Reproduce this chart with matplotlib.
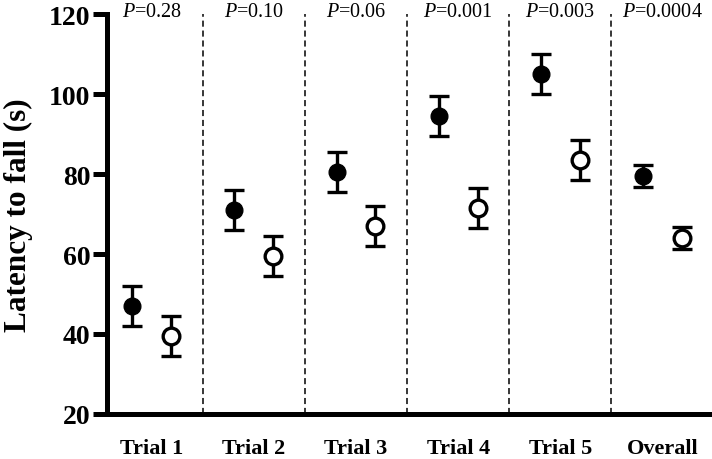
import matplotlib
matplotlib.use('Agg')
import matplotlib.pyplot as plt

# Latency to fall per trial, two groups (filled / open)
groups = ['Trial 1', 'Trial 2', 'Trial 3', 'Trial 4', 'Trial 5', 'Overall']
p_values = ['0.28', '0.10', '0.06', '0.001', '0.003', '0.0004']
filled_mean = [47, 71, 80.5, 94.5, 105, 79.5]
filled_err = [5, 5, 5, 5, 5, 2.8]
open_mean = [39.5, 59.5, 67, 71.5, 83.5, 64]
open_err = [5, 5, 5, 5, 5, 2.8]

SERIF = 'Liberation Serif'
plt.rcParams['font.family'] = SERIF
plt.rcParams['mathtext.fontset'] = 'custom'
plt.rcParams['mathtext.it'] = 'Liberation Serif:italic'
plt.rcParams['mathtext.rm'] = 'Liberation Serif'

fig = plt.figure(figsize=(7.12, 4.6), dpi=100, facecolor='white')
ax = fig.add_axes([0.150, 0.098, 0.852, 0.869])

x_filled = [i + 0.31 for i in range(len(groups))]
x_open = [i + 0.69 for i in range(len(groups))]

ax.errorbar(x_filled, filled_mean, yerr=filled_err, fmt='o', color='black',
            markersize=12, elinewidth=2.4, capsize=7.5, capthick=2.4, zorder=3)
ax.errorbar(x_open, open_mean, yerr=open_err, fmt='o', color='black',
            markerfacecolor='white', markeredgewidth=2.4,
            markersize=12, elinewidth=2.4, capsize=7.5, capthick=2.4, zorder=3)

# dashed separators between groups
for i in range(1, len(groups)):
    ax.axvline(i, color='black', linestyle=(0, (4, 2.5)), linewidth=1.1, zorder=1)

# P-values above each group
for i, p in enumerate(p_values):
    ax.text(i + 0.5, 119.6, r'$\it{P}$' + '=' + p, ha='center', va='baseline',
            fontsize=14.5, family=SERIF, clip_on=False)

ax.set_xlim(0.06, 6.0)
ax.set_ylim(20, 120)
ax.set_yticks([20, 40, 60, 80, 100, 120])
ax.set_xticks([i + 0.5 for i in range(len(groups))])
ax.set_xticklabels(groups, fontsize=16, fontweight='bold', family=SERIF)
ax.set_yticklabels(['20', '40', '60', '80', '100', '120'],
                   fontsize=20, fontweight='bold', family=SERIF)

ax.tick_params(axis='y', length=10, width=3.6, pad=2)
ax.tick_params(axis='x', length=0, pad=17)

ax.spines['top'].set_visible(False)
ax.spines['right'].set_visible(False)
ax.spines['left'].set_linewidth(3.6)
ax.spines['bottom'].set_linewidth(3.6)

ax.set_ylabel('Latency to fall (s)', fontsize=22.5, fontweight='bold', family=SERIF)
ax.yaxis.set_label_coords(-0.122, 0.5)

plt.savefig('out.png', dpi=100, facecolor='white')
plt.close()
